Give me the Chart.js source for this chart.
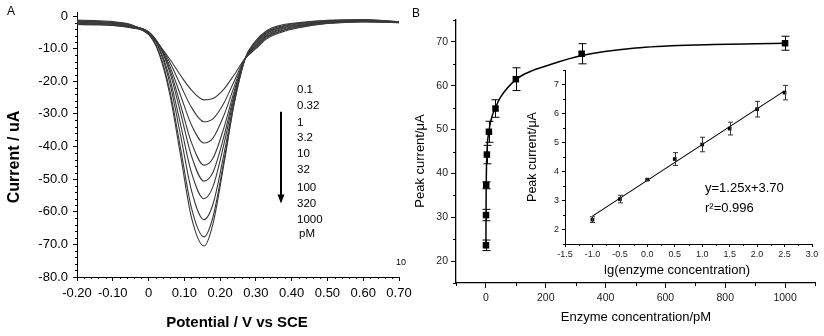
<!DOCTYPE html>
<html>
<head>
<meta charset="utf-8">
<script src="https://cdn.jsdelivr.net/npm/chart.js@4.4.1/dist/chart.umd.min.js"></script>
<style>
  body { margin: 0; width: 824px; height: 336px; overflow: hidden; background: #fff; }
  .box { position: absolute; }
</style>
</head>
<body>
<div class="box" style="left:0;top:0"><canvas id="chartA" width="420" height="336"></canvas></div>
<div class="box" style="left:410px;top:0"><canvas id="chartB" width="414" height="336"></canvas></div>
<div class="box" style="left:520px;top:60px"><canvas id="chartInset" width="304" height="220"></canvas></div>
<script>
// ---- Panel A: voltammograms ----
const potential = [-0.20, -0.15, -0.10, -0.05, 0.00, 0.03, 0.06, 0.09, 0.12, 0.155, 0.18, 0.21, 0.24, 0.27, 0.30, 0.33, 0.37, 0.42, 0.50, 0.60, 0.70];
const curve0_1  = [-1.2, -1.4, -1.7, -2.6, -5.6, -9.0, -13.3, -18.3, -22.7, -25.7, -25.3, -22.5, -17.9, -13.0, -10.0, -7.0, -5.0, -3.6, -2.3, -1.8, -2.0];
const curve0_32 = [-1.4, -1.6, -1.9, -2.7, -5.3, -8.8, -14.3, -21.3, -28.0, -32.4, -31.5, -26.8, -19.8, -13.0, -9.7, -6.7, -4.7, -3.4, -2.2, -1.7, -2.0];
const curve1    = [-1.6, -1.7, -2.0, -2.9, -5.1, -8.9, -15.5, -24.5, -33.4, -38.9, -37.4, -30.6, -21.4, -13.0, -9.4, -6.4, -4.5, -3.2, -2.1, -1.6, -1.9];
const curve3_2  = [-1.7, -1.9, -2.2, -3.0, -4.9, -8.9, -16.5, -27.5, -38.8, -45.7, -43.6, -34.5, -22.8, -13.0, -9.1, -6.1, -4.2, -3.0, -1.9, -1.5, -1.9];
const curve10   = [-1.9, -2.1, -2.3, -3.1, -4.8, -9.1, -17.5, -29.9, -42.9, -50.6, -47.9, -37.2, -23.8, -13.0, -8.8, -5.8, -3.9, -2.8, -1.8, -1.5, -1.9];
const curve32   = [-2.1, -2.2, -2.5, -3.2, -5.0, -9.8, -19.4, -33.5, -48.0, -56.0, -52.3, -39.6, -24.6, -13.0, -8.4, -5.4, -3.6, -2.6, -1.7, -1.4, -1.8];
const curve100  = [-2.3, -2.4, -2.6, -3.4, -5.0, -10.2, -20.8, -36.9, -53.5, -62.4, -57.7, -42.7, -25.6, -13.0, -8.1, -5.1, -3.4, -2.4, -1.6, -1.3, -1.8];
const curve320  = [-2.4, -2.5, -2.8, -3.5, -5.4, -11.2, -23.1, -40.9, -58.9, -67.7, -61.6, -44.8, -26.3, -13.0, -7.8, -4.8, -3.1, -2.2, -1.4, -1.2, -1.7];
const curve1000 = [-2.6, -2.7, -2.9, -3.6, -5.6, -11.7, -24.3, -43.1, -61.8, -70.5, -63.7, -45.8, -26.5, -13.0, -7.5, -4.5, -2.8, -2.0, -1.3, -1.1, -1.7];
const concLabels = ["0.1", "0.32", "1", "3.2", "10", "32", "100", "320", "1000"];
const potentialTicks = [-0.2, -0.1, 0, 0.1, 0.2, 0.3, 0.4, 0.5, 0.6, 0.7];
const currentTicks = [0, -10, -20, -30, -40, -50, -60, -70, -80];

// ---- Panel B: calibration ----
const enzymeConc = [0.1, 0.32, 1, 3.2, 10, 32, 100, 320, 1000];
const peakCurrent = [23.6, 30.5, 37.3, 44.3, 49.5, 54.8, 61.5, 67.3, 69.7];
const peakError = [1.2, 1.3, 0.8, 2.1, 2.4, 2.0, 2.6, 2.3, 1.6];
const fitConc = [0.1, 0.32, 1, 3.2, 10, 20, 32, 50, 100, 150, 200, 320, 500, 700, 1000];
const fitCurrent = [23.6, 30.5, 37.3, 44.3, 49.6, 52.9, 55.0, 57.5, 61.4, 63.3, 64.5, 66.9, 68.6, 69.3, 69.7];
const concTicks = [0, 200, 400, 600, 800, 1000];
const peakTicks = [20, 30, 40, 50, 60, 70];

// ---- Inset: log plot ----
const logConc = [-1.0, -0.5, 0.0, 0.5, 1.0, 1.5, 2.0, 2.5];
const insetCurrent = [2.34, 3.05, 3.72, 4.43, 4.93, 5.48, 6.15, 6.72];
const insetError = [0.10, 0.13, 0.03, 0.22, 0.25, 0.22, 0.27, 0.25];
const lineLogConc = [-1.0, 2.5];
const lineCurrent = [2.46, 6.78];
const logTicks = [-1.5, -1.0, -0.5, 0.0, 0.5, 1.0, 1.5, 2.0, 2.5, 3.0];
const insetTicks = [2, 3, 4, 5, 6, 7];

const family = '"Liberation Sans", Arial, sans-serif';
Chart.defaults.font.family = family;
Chart.defaults.color = "#000";
Chart.defaults.animation = false;
Chart.defaults.plugins.legend.display = false;
Chart.defaults.plugins.tooltip.enabled = false;

// build an axis with fixed ticks and a fixed size
function axis(o) {
    return {
        type: "linear",
        min: o.min,
        max: o.max,
        afterBuildTicks: (s) => { s.ticks = o.ticks.map((v) => ({ value: v })); },
        afterFit: (s) => {
            if (o.width) s.width = o.width;
            if (o.height) s.height = o.height;
        },
        border: { color: "#000", width: o.lw || 1 },
        grid: { drawOnChartArea: false, tickLength: o.tick, color: "#000" },
        ticks: {
            font: { size: o.size },
            color: o.color || "#000",
            padding: o.pad,
            autoSkip: false,
            maxRotation: 0,
            callback: o.fmt,
        },
    };
}

function range(a, b, step, skip) {
    const out = [];
    for (let v = a; v <= b + 1e-9; v += step) {
        const r = Math.round(v * 1000) / 1000;
        if (!skip.some((s) => Math.abs(s - r) < 1e-6)) out.push(r);
    }
    return out;
}

// minor tick marks
const minorTicks = {
    id: "minorTicks",
    afterDraw(chart, args, opts) {
        const ctx = chart.ctx;
        const xs = chart.scales.x, ys = chart.scales.y;
        ctx.save();
        ctx.strokeStyle = "#000";
        ctx.lineWidth = 1;
        ctx.beginPath();
        (opts.x || []).forEach((v) => {
            const px = Math.round(xs.getPixelForValue(v)) + 0.5;
            ctx.moveTo(px, ys.bottom);
            ctx.lineTo(px, ys.bottom + opts.len);
        });
        (opts.y || []).forEach((v) => {
            const py = Math.round(ys.getPixelForValue(v)) + 0.5;
            ctx.moveTo(xs.left, py);
            ctx.lineTo(xs.left - opts.len, py);
        });
        ctx.stroke();
        ctx.restore();
    },
};

// vertical error bars for one dataset
const errorBars = {
    id: "errorBars",
    afterDatasetsDraw(chart, args, opts) {
        if (!opts.errors) return;
        const ctx = chart.ctx;
        const ys = chart.scales.y;
        const ds = chart.data.datasets[opts.dataset];
        const meta = chart.getDatasetMeta(opts.dataset);
        ctx.save();
        ctx.strokeStyle = opts.color || "#000";
        ctx.lineWidth = 1;
        meta.data.forEach((pt, i) => {
            const v = ds.data[i].y, e = opts.errors[i];
            const top = ys.getPixelForValue(v + e), bot = ys.getPixelForValue(v - e);
            const x = Math.round(pt.x) + 0.5;
            ctx.beginPath();
            ctx.moveTo(x, top); ctx.lineTo(x, bot);
            ctx.moveTo(x - opts.cap, top); ctx.lineTo(x + opts.cap, top);
            ctx.moveTo(x - opts.cap, bot); ctx.lineTo(x + opts.cap, bot);
            ctx.stroke();
        });
        ctx.restore();
    },
};

// free text, axis titles and the arrow
const annotate = {
    id: "annotate",
    afterDraw(chart, args, opts) {
        const ctx = chart.ctx;
        (opts.texts || []).forEach((t) => {
            ctx.save();
            ctx.font = (t.bold ? "bold " : "") + t.size + "px " + family;
            ctx.fillStyle = t.color || "#000";
            ctx.textAlign = t.align || "center";
            ctx.textBaseline = "middle";
            ctx.translate(t.x, t.y);
            if (t.rot) ctx.rotate(-Math.PI / 2);
            ctx.fillText(t.text, 0, 0);
            ctx.restore();
        });
        if (opts.arrow) {
            const a = opts.arrow;
            ctx.save();
            ctx.strokeStyle = "#000";
            ctx.fillStyle = "#000";
            ctx.lineWidth = 2;
            ctx.beginPath();
            ctx.moveTo(a.x, a.y1);
            ctx.lineTo(a.x, a.y2 - 8);
            ctx.stroke();
            ctx.beginPath();
            ctx.moveTo(a.x - 3.5, a.y2 - 9);
            ctx.lineTo(a.x + 3.5, a.y2 - 9);
            ctx.lineTo(a.x, a.y2);
            ctx.closePath();
            ctx.fill();
            ctx.restore();
        }
    },
};

// ---- Panel A ----
const curves = [curve0_1, curve0_32, curve1, curve3_2, curve10, curve32, curve100, curve320, curve1000];
const legendY = [90, 106, 122.7, 137.7, 153.7, 170, 187.7, 204, 220];
const textsA = [
    { text: "A", x: 11, y: 12, size: 12 },
    { text: "Potential / V vs SCE", x: 237, y: 323, size: 15, bold: true },
    { text: "Current / uA", x: 15, y: 157, size: 16, bold: true, rot: true },
    { text: "pM", x: 299, y: 233.5, size: 11.5, align: "left" },
    { text: "10", x: 396, y: 263, size: 9, align: "left" },
];
concLabels.forEach((c, i) => textsA.push({ text: c, x: 297, y: legendY[i], size: 11.5, align: "left" }));

new Chart(document.getElementById("chartA"), {
    type: "line",
    data: {
        datasets: curves.map((ys, i) => ({
            label: concLabels[i] + " pM",
            data: potential.map((x, j) => ({ x: x, y: ys[j] })),
            borderColor: "#3a3a3a",
            borderWidth: 1.1,
            pointRadius: 0,
            cubicInterpolationMode: "monotone",
            fill: false,
        })),
    },
    options: {
        responsive: false,
        layout: { padding: { left: 0, right: 21, top: 12, bottom: 0 } },
        scales: {
            x: axis({ min: -0.2, max: 0.7, ticks: potentialTicks, height: 59, tick: 4, size: 13, pad: 5,
                fmt: (v) => (v === 0 ? "0" : v.toFixed(2)) }),
            y: axis({ min: -80, max: 1, ticks: currentTicks, width: 77, tick: 4, size: 13, pad: 5,
                fmt: (v) => (v === 0 ? "0" : v.toFixed(1)) }),
        },
        plugins: {
            minorTicks: { x: range(-0.2, 0.7, 0.02, potentialTicks), y: range(-80, 0, 2, currentTicks), len: 2 },
            annotate: { texts: textsA, arrow: { x: 281, y1: 111.7, y2: 203.5 } },
        },
    },
    plugins: [minorTicks, annotate],
});

// ---- Panel B ----
new Chart(document.getElementById("chartB"), {
    type: "line",
    data: {
        datasets: [
            {
                label: "fit",
                data: fitConc.map((x, i) => ({ x: x, y: fitCurrent[i] })),
                borderColor: "#000",
                borderWidth: 1.5,
                pointRadius: 0,
                cubicInterpolationMode: "monotone",
            },
            {
                label: "Peak current",
                data: enzymeConc.map((x, i) => ({ x: x, y: peakCurrent[i] })),
                showLine: false,
                pointStyle: "rect",
                pointRadius: 4.6,
                backgroundColor: "#000",
                borderColor: "#000",
                borderWidth: 0,
            },
        ],
    },
    options: {
        responsive: false,
        layout: { padding: { left: 0, right: 9, top: 20, bottom: 0 } },
        scales: {
            x: axis({ min: -100, max: 1100, ticks: concTicks, height: 53, tick: 5, size: 10.5, pad: 4, color: "#222", lw: 1.3,
                fmt: (v) => String(v) }),
            y: axis({ min: 15, max: 75, ticks: peakTicks, width: 46, tick: 5, size: 10.5, pad: 3, color: "#222", lw: 1.3,
                fmt: (v) => String(v) }),
        },
        plugins: {
            minorTicks: { x: range(-100, 1100, 100, concTicks), y: range(15, 75, 5, peakTicks), len: 3 },
            errorBars: { dataset: 1, errors: peakError, cap: 4 },
            annotate: {
                texts: [
                    { text: "B", x: 6, y: 14, size: 12 },
                    { text: "Enzyme concentration/pM", x: 226, y: 317, size: 13 },
                    { text: "Peak current/\u03bcA", x: 10, y: 161, size: 13, rot: true },
                ],
            },
        },
    },
    plugins: [minorTicks, errorBars, annotate],
});

// ---- Inset ----
new Chart(document.getElementById("chartInset"), {
    type: "line",
    data: {
        datasets: [
            {
                label: "linear fit",
                data: lineLogConc.map((x, i) => ({ x: x, y: lineCurrent[i] })),
                borderColor: "#000",
                borderWidth: 1.1,
                pointRadius: 0,
            },
            {
                label: "Peak current",
                data: logConc.map((x, i) => ({ x: x, y: insetCurrent[i] })),
                showLine: false,
                pointStyle: "rect",
                pointRadius: 2.6,
                backgroundColor: "#000",
                borderColor: "#000",
                borderWidth: 0,
            },
        ],
    },
    options: {
        responsive: false,
        layout: { padding: { left: 0, right: 12, top: 10, bottom: 0 } },
        scales: {
            x: axis({ min: -1.5, max: 3.0, ticks: logTicks, height: 36, tick: 3, size: 9, pad: 2, color: "#222",
                fmt: (v) => v.toFixed(1) }),
            y: axis({ min: 1.5, max: 7.5, ticks: insetTicks, width: 45, tick: 3, size: 9, pad: 3, color: "#222",
                fmt: (v) => String(v) }),
        },
        plugins: {
            minorTicks: { x: range(-1.5, 3.0, 0.25, logTicks), y: range(1.5, 7.5, 0.5, insetTicks), len: 2 },
            errorBars: { dataset: 1, errors: insetError, cap: 2.5, color: "#333" },
            annotate: {
                texts: [
                    { text: "lg(enzyme concentration)", x: 157, y: 210, size: 13 },
                    { text: "Peak current/\u03bcA", x: 12.5, y: 97, size: 12.5, rot: true },
                    { text: "y=1.25x+3.70", x: 185, y: 128.5, size: 13, align: "left" },
                    { text: "r\u00b2=0.996", x: 185, y: 148.5, size: 13, align: "left" },
                ],
            },
        },
    },
    plugins: [minorTicks, errorBars, annotate],
});
</script>
</body>
</html>
